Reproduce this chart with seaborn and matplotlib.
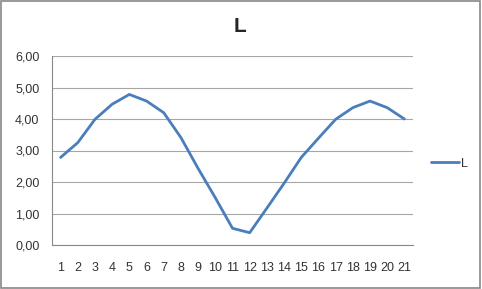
import matplotlib
matplotlib.use("Agg")
import matplotlib.pyplot as plt
import seaborn as sns
import pandas as pd
from matplotlib.patches import Rectangle

categories = list(range(1, 22))
values_L = [2.78, 3.25, 3.99, 4.47, 4.78, 4.57, 4.20, 3.41, 2.43, 1.50, 0.53,
            0.39, 1.17, 1.96, 2.78, 3.39, 3.99, 4.36, 4.57, 4.36, 4.00]
y_ticks = [0, 1, 2, 3, 4, 5, 6]
y_labels = ["0,00", "1,00", "2,00", "3,00", "4,00", "5,00", "6,00"]
series_name = "L"

df = pd.DataFrame({"x": categories, "y": values_L, "series": series_name})

sns.set_style("white")
plt.rcParams['font.family'] = ['Liberation Sans', 'DejaVu Sans']

fig = plt.figure(figsize=(4.82, 2.89), dpi=100)
ax = fig.add_axes([52/482, 1-245/289, (413-52)/482, (245-56)/289])

sns.lineplot(data=df, x="x", y="y", hue="series", palette=["#4A7EBB"],
             linewidth=2.0, ax=ax)

ax.set_xlim(0.5, 21.5)
ax.set_ylim(0, 6)
ax.set_yticks(y_ticks)
ax.set_yticklabels(y_labels)
ax.set_xticks(categories)
ax.set_xticklabels([str(c) for c in categories])
ax.set_xticks([c + 0.5 for c in [0] + categories], minor=True)
ax.tick_params(axis='x', which='major', length=0, pad=12, labelsize=9, colors='#333333')
ax.tick_params(axis='x', which='minor', length=4, width=0.8, color='#888888', direction='out')
ax.tick_params(axis='y', which='major', length=4, width=0.8, color='#888888', direction='out',
               pad=5, labelsize=9, labelcolor='#333333')
ax.set_xlabel("")
ax.set_ylabel("")
ax.grid(axis='y', color='#A6A6A6', linewidth=0.8)
ax.grid(axis='x', visible=False)
for s in ['top', 'right']:
    ax.spines[s].set_visible(False)
for s in ['left', 'bottom']:
    ax.spines[s].set_color('#888888')
    ax.spines[s].set_linewidth(0.8)

fig.text(240/482, 1-27/289, "L", ha='center', va='center', fontsize=15, fontweight='bold')

leg = ax.legend(loc='center left', bbox_to_anchor=(1.02, 0.43), frameon=False,
                handlelength=2.2, handletextpad=0.2, fontsize=9)
for t in leg.get_texts():
    t.set_color('#333333')

fig.patches.append(Rectangle((0.002, 0.003), 0.994, 0.992, transform=fig.transFigure,
                             fill=False, edgecolor='#888888', linewidth=1.2))

fig.savefig("out.png", dpi=100)
